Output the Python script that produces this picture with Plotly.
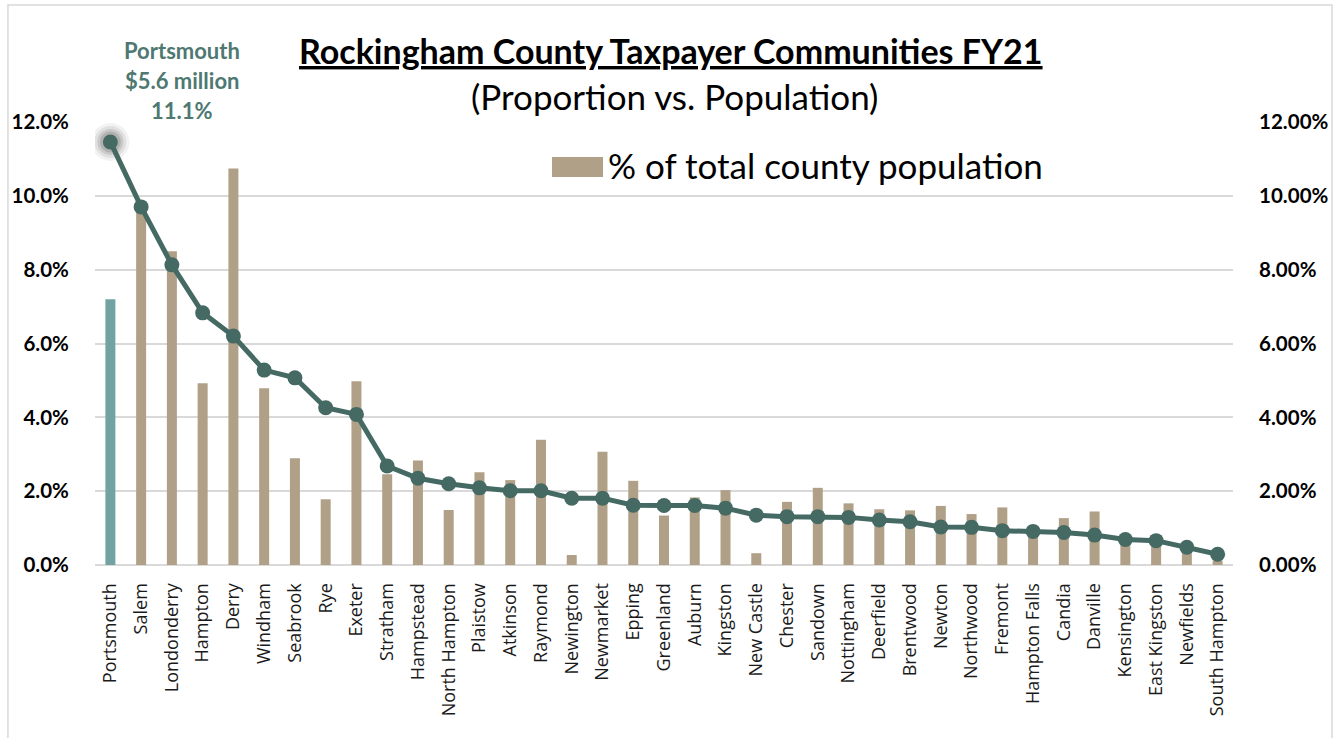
import plotly.graph_objects as go

towns = ["Portsmouth", "Salem", "Londonderry", "Hampton", "Derry", "Windham", "Seabrook",
         "Rye", "Exeter", "Stratham", "Hampstead", "North Hampton", "Plaistow", "Atkinson",
         "Raymond", "Newington", "Newmarket", "Epping", "Greenland", "Auburn", "Kingston",
         "New Castle", "Chester", "Sandown", "Nottingham", "Deerfield", "Brentwood", "Newton",
         "Northwood", "Fremont", "Hampton Falls", "Candia", "Danville", "Kensington",
         "East Kingston", "Newfields", "South Hampton"]

# % of total county population (bars, left axis)
population_pct = [7.20, 9.65, 8.50, 4.92, 10.74, 4.79, 2.89, 1.78, 4.98, 2.46, 2.83, 1.49,
                  2.51, 2.30, 3.39, 0.27, 3.07, 2.28, 1.34, 1.83, 2.03, 0.32, 1.71, 2.09,
                  1.67, 1.51, 1.48, 1.60, 1.38, 1.56, 0.88, 1.27, 1.45, 0.68, 0.62, 0.45, 0.12]

# proportion of county tax (line, right axis)
tax_pct = [11.46, 9.70, 8.13, 6.83, 6.20, 5.28, 5.07, 4.26, 4.08, 2.68, 2.35, 2.20,
           2.09, 2.01, 2.01, 1.81, 1.81, 1.62, 1.61, 1.61, 1.54, 1.35, 1.31, 1.31,
           1.29, 1.22, 1.17, 1.03, 1.02, 0.93, 0.91, 0.88, 0.81, 0.69, 0.66, 0.48, 0.29]

left_ticks = [0, 2, 4, 6, 8, 10, 12]
left_ticktext = ["0.0%", "2.0%", "4.0%", "6.0%", "8.0%", "10.0%", "12.0%"]
right_ticktext = ["0.00%", "2.00%", "4.00%", "6.00%", "8.00%", "10.00%", "12.00%"]

TAN = "#b1a088"
TEAL_BAR = "#72a3a2"
LINE = "#456963"

bar_colors = [TEAL_BAR] + [TAN] * (len(towns) - 1)

fig = go.Figure()
fig.add_trace(go.Bar(x=towns, y=population_pct, marker=dict(color=bar_colors, line=dict(width=0)),
                     name="% of total county population", showlegend=False, yaxis="y"))
# glow around Portsmouth point
for sz, op in [(38, 0.05), (32, 0.07), (26, 0.10), (21, 0.12)]:
    fig.add_trace(go.Scatter(x=towns[:1], y=tax_pct[:1], mode="markers", yaxis="y2",
                             marker=dict(size=sz, color="rgba(0,0,0,%.2f)" % op, line=dict(width=0)),
                             showlegend=False, hoverinfo="skip"))
fig.add_trace(go.Scatter(x=towns, y=tax_pct, mode="lines+markers", yaxis="y2",
                         line=dict(color=LINE, width=5), marker=dict(size=15, color=LINE),
                         showlegend=False))

tick_font = dict(family="Lato", size=20.5, color="#000000", weight="bold")

fig.update_layout(
    width=1343, height=738,
    margin=dict(l=95, r=110, t=122, b=173),
    paper_bgcolor="white", plot_bgcolor="white",
    bargap=0.675,
    showlegend=False,
    xaxis=dict(tickangle=-90, tickfont=dict(family="Open Sans", size=18, color="#1a1a1a"),
               showgrid=False, showline=False, ticks="outside", ticklen=10,
               tickcolor="rgba(0,0,0,0)", range=[-0.5, len(towns) - 0.5]),
    yaxis=dict(range=[0, 12], tickvals=left_ticks, ticktext=left_ticktext, tickfont=tick_font,
               showgrid=True, gridcolor="#d9d9d9", gridwidth=1.5, zeroline=True,
               zerolinecolor="#d9d9d9", zerolinewidth=2, showline=False,
               ticks="outside", ticklen=21, tickcolor="rgba(0,0,0,0)"),
    yaxis2=dict(range=[0, 12], tickvals=left_ticks, ticktext=right_ticktext, tickfont=tick_font,
                overlaying="y", side="right", showgrid=False, zeroline=False, showline=False,
                ticks="outside", ticklen=21, tickcolor="rgba(0,0,0,0)"),
)

# outer chart border
fig.add_shape(type="rect", xref="paper", yref="paper", x0=-0.0765, x1=1.087, y0=-0.6, y1=1.264,
              line=dict(color="#d9d9d9", width=1.5), fillcolor="rgba(0,0,0,0)", layer="below")

# title and subtitle
fig.add_annotation(text="<b>Rockingham County Taxpayer Communities FY21</b>", xref="paper", yref="paper",
                   x=0.506, y=1.161, xanchor="center", yanchor="middle", showarrow=False,
                   font=dict(family="Lato", size=34, color="#000000", lineposition="under"))
fig.add_annotation(text="(Proportion vs. Population)", xref="paper", yref="paper",
                   x=0.509, y=1.058, xanchor="center", yanchor="middle", showarrow=False,
                   font=dict(family="Lato", size=35, color="#000000"))

# legend (custom)
fig.add_shape(type="rect", xref="paper", yref="paper", x0=0.4016, x1=0.4464, y0=0.876, y1=0.921,
              line=dict(width=0), fillcolor=TAN)
fig.add_annotation(text="% of total county population", xref="paper", yref="paper",
                   x=0.4490, y=0.903, xanchor="left", yanchor="middle", showarrow=False,
                   font=dict(family="Lato", size=35, color="#000000"))

# Portsmouth callout
for txt, yy in [("Portsmouth", 1.161), ("$5.6 million", 1.093), ("11.1%", 1.026)]:
    fig.add_annotation(text="<b>" + txt + "</b>", xref="paper", yref="paper",
                       x=(182 - 95) / 1138, y=yy, xanchor="center", yanchor="middle", showarrow=False,
                       font=dict(family="Lato", size=22, color="#4e7871"))

fig.write_html("out.html")
